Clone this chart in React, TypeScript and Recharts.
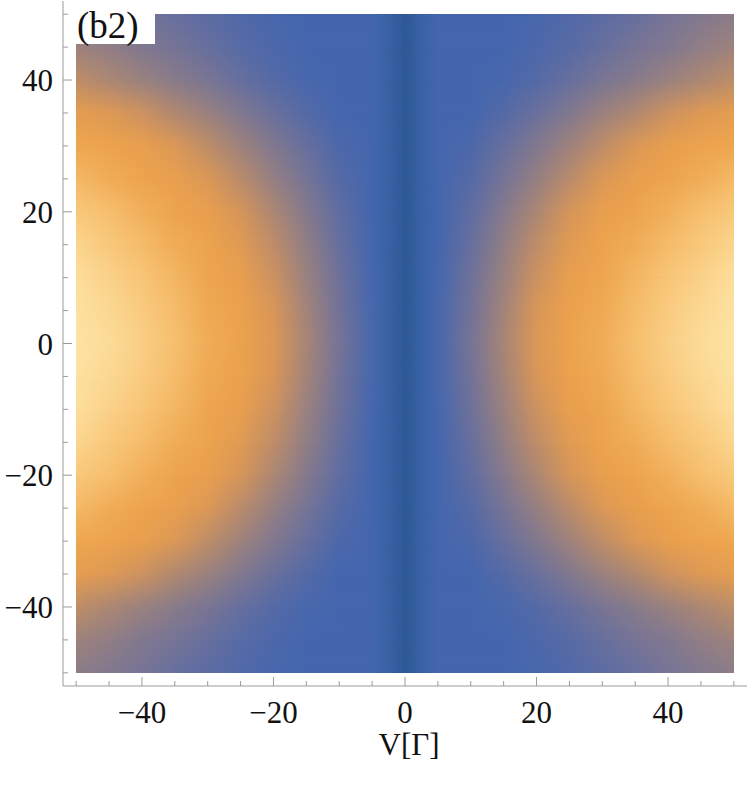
import React from 'react';
import { ComposedChart, XAxis, YAxis, ReferenceArea } from 'recharts';

// density plot sampled on a grid (V along x, second variable along y)
const X_COLS = [-50, -45, -40, -35, -30, -25, -20, -15, -10, -5, -2.5, 0, 2.5, 5, 10, 15, 20, 25, 30, 35, 40, 45, 50];
const ROW_Y = [50, 45, 40, 35, 30, 25, 20, 15, 10, 5, 0, -5, -10, -15, -20, -25, -30, -35, -40, -45, -50];

// scalar level (0 = dark blue, 1 = pale yellow), one row per ROW_Y entry
const V_ROWS = [
  [0.50, 0.47, 0.44, 0.40, 0.37, 0.34, 0.30, 0.28, 0.28, 0.28, 0.18, 0.06, 0.18, 0.28, 0.28, 0.28, 0.30, 0.34, 0.37, 0.40, 0.44, 0.47, 0.50],
  [0.54, 0.51, 0.47, 0.44, 0.40, 0.36, 0.32, 0.28, 0.28, 0.28, 0.18, 0.06, 0.18, 0.28, 0.28, 0.28, 0.32, 0.36, 0.40, 0.44, 0.47, 0.51, 0.54],
  [0.61, 0.57, 0.53, 0.49, 0.45, 0.40, 0.35, 0.30, 0.28, 0.28, 0.18, 0.06, 0.18, 0.28, 0.28, 0.30, 0.35, 0.40, 0.45, 0.49, 0.53, 0.57, 0.61],
  [0.72, 0.69, 0.64, 0.58, 0.53, 0.47, 0.41, 0.35, 0.28, 0.28, 0.18, 0.06, 0.18, 0.28, 0.28, 0.35, 0.41, 0.47, 0.53, 0.58, 0.64, 0.69, 0.72],
  [0.80, 0.77, 0.73, 0.68, 0.61, 0.54, 0.47, 0.40, 0.32, 0.28, 0.18, 0.06, 0.18, 0.28, 0.32, 0.40, 0.47, 0.54, 0.61, 0.68, 0.73, 0.77, 0.80],
  [0.86, 0.82, 0.78, 0.73, 0.68, 0.60, 0.52, 0.44, 0.35, 0.28, 0.18, 0.06, 0.18, 0.28, 0.35, 0.44, 0.52, 0.60, 0.68, 0.73, 0.78, 0.82, 0.86],
  [0.91, 0.88, 0.83, 0.78, 0.73, 0.66, 0.57, 0.48, 0.38, 0.28, 0.18, 0.06, 0.18, 0.28, 0.38, 0.48, 0.57, 0.66, 0.73, 0.78, 0.83, 0.88, 0.91],
  [0.95, 0.91, 0.87, 0.82, 0.77, 0.70, 0.61, 0.51, 0.40, 0.28, 0.18, 0.06, 0.18, 0.28, 0.40, 0.51, 0.61, 0.70, 0.77, 0.82, 0.87, 0.91, 0.95],
  [0.98, 0.94, 0.90, 0.85, 0.79, 0.73, 0.64, 0.53, 0.42, 0.29, 0.18, 0.06, 0.18, 0.29, 0.42, 0.53, 0.64, 0.73, 0.79, 0.85, 0.90, 0.94, 0.98],
  [0.99, 0.96, 0.92, 0.87, 0.81, 0.75, 0.67, 0.55, 0.43, 0.30, 0.18, 0.06, 0.18, 0.30, 0.43, 0.55, 0.67, 0.75, 0.81, 0.87, 0.92, 0.96, 0.99],
  [1.00, 0.97, 0.93, 0.88, 0.82, 0.76, 0.68, 0.56, 0.44, 0.30, 0.18, 0.06, 0.18, 0.30, 0.44, 0.56, 0.68, 0.76, 0.82, 0.88, 0.93, 0.97, 1.00],
  [0.99, 0.96, 0.92, 0.87, 0.81, 0.75, 0.67, 0.55, 0.43, 0.30, 0.18, 0.06, 0.18, 0.30, 0.43, 0.55, 0.67, 0.75, 0.81, 0.87, 0.92, 0.96, 0.99],
  [0.98, 0.94, 0.90, 0.85, 0.79, 0.73, 0.64, 0.53, 0.42, 0.29, 0.18, 0.06, 0.18, 0.29, 0.42, 0.53, 0.64, 0.73, 0.79, 0.85, 0.90, 0.94, 0.98],
  [0.95, 0.91, 0.87, 0.82, 0.77, 0.70, 0.61, 0.51, 0.40, 0.28, 0.18, 0.06, 0.18, 0.28, 0.40, 0.51, 0.61, 0.70, 0.77, 0.82, 0.87, 0.91, 0.95],
  [0.91, 0.88, 0.83, 0.78, 0.73, 0.66, 0.57, 0.48, 0.38, 0.28, 0.18, 0.06, 0.18, 0.28, 0.38, 0.48, 0.57, 0.66, 0.73, 0.78, 0.83, 0.88, 0.91],
  [0.86, 0.82, 0.78, 0.73, 0.68, 0.60, 0.52, 0.44, 0.35, 0.28, 0.18, 0.06, 0.18, 0.28, 0.35, 0.44, 0.52, 0.60, 0.68, 0.73, 0.78, 0.82, 0.86],
  [0.80, 0.77, 0.73, 0.68, 0.61, 0.54, 0.47, 0.40, 0.32, 0.28, 0.18, 0.06, 0.18, 0.28, 0.32, 0.40, 0.47, 0.54, 0.61, 0.68, 0.73, 0.77, 0.80],
  [0.72, 0.69, 0.64, 0.58, 0.53, 0.47, 0.41, 0.35, 0.28, 0.28, 0.18, 0.06, 0.18, 0.28, 0.28, 0.35, 0.41, 0.47, 0.53, 0.58, 0.64, 0.69, 0.72],
  [0.61, 0.57, 0.53, 0.49, 0.45, 0.40, 0.35, 0.30, 0.28, 0.28, 0.18, 0.06, 0.18, 0.28, 0.28, 0.30, 0.35, 0.40, 0.45, 0.49, 0.53, 0.57, 0.61],
  [0.54, 0.51, 0.47, 0.44, 0.40, 0.36, 0.32, 0.28, 0.28, 0.28, 0.18, 0.06, 0.18, 0.28, 0.28, 0.28, 0.32, 0.36, 0.40, 0.44, 0.47, 0.51, 0.54],
  [0.50, 0.47, 0.44, 0.40, 0.37, 0.34, 0.30, 0.28, 0.28, 0.28, 0.18, 0.06, 0.18, 0.28, 0.28, 0.28, 0.30, 0.34, 0.37, 0.40, 0.44, 0.47, 0.50],
];

const TICKS = [-50, -45, -40, -35, -30, -25, -20, -15, -10, -5, 0, 5, 10, 15, 20, 25, 30, 35, 40, 45, 50];
const MAJOR = [-40, -20, 0, 20, 40];
const X_TITLE = 'V[Γ]';
const PANEL = '(b2)';

const FONT = 'Liberation Serif';
const AXIS = '#9a9a9a';

// blue -> grey -> orange -> pale yellow
const CMAP: [number, string][] = [
  [0, '#28538a'], [0.12, '#335f9f'], [0.28, '#4466ae'], [0.34, '#5169a8'],
  [0.42, '#6e719a'], [0.5, '#8c7c88'], [0.58, '#b08870'], [0.66, '#d6955a'],
  [0.74, '#eaa04c'], [0.8, '#eea64f'], [0.89, '#f7c272'], [1, '#fee4a5'],
];

const hex = (c: string) => [1, 3, 5].map((i) => parseInt(c.slice(i, i + 2), 16));

function colorAt(v: number) {
  for (let k = 1; k < CMAP.length; k++) {
    const [p0, c0] = CMAP[k - 1];
    const [p1, c1] = CMAP[k];
    if (v <= p1 || k === CMAP.length - 1) {
      const t = Math.max(0, Math.min(1, (v - p0) / (p1 - p0)));
      const a = hex(c0), b = hex(c1);
      const rgb = a.map((x, j) => Math.round(x + (b[j] - x) * t));
      return `rgb(${rgb.join(',')})`;
    }
  }
  return CMAP[0][1];
}

const fmt = (v: number) => (v < 0 ? `\u2212${Math.abs(v)}` : `${v}`);

const BottomTick = ({ x, y, payload }: any) => {
  const major = MAJOR.includes(payload.value);
  return (
    <g>
      <line x1={x} x2={x} y1={y} y2={y - (major ? 9 : 5)} stroke={AXIS} />
      {major && (
        <text x={x} y={y + 37} textAnchor="middle" style={{ fontFamily: FONT, fontSize: 31 }} fill="#111">
          {fmt(payload.value)}
        </text>
      )}
    </g>
  );
};

const TopTick = ({ x, y, payload }: any) => {
  const major = MAJOR.includes(payload.value);
  return <line x1={x} x2={x} y1={y} y2={y + (major ? 9 : 5)} stroke={AXIS} />;
};

const LeftTick = ({ x, y, payload }: any) => {
  const major = MAJOR.includes(payload.value);
  return (
    <g>
      <line x1={x} x2={x + (major ? 9 : 5)} y1={y} y2={y} stroke={AXIS} />
      {major && (
        <text x={x - 10} y={y + 11} textAnchor="end" style={{ fontFamily: FONT, fontSize: 31 }} fill="#111">
          {fmt(payload.value)}
        </text>
      )}
    </g>
  );
};

const RightTick = ({ x, y, payload }: any) => {
  const major = MAJOR.includes(payload.value);
  return <line x1={x} x2={x - (major ? 9 : 5)} y1={y} y2={y} stroke={AXIS} />;
};

export default function App() {
  const bands = ROW_Y.slice(0, -1).map((yTop, i) => ({ i, yTop, yBot: ROW_Y[i + 1] }));
  return (
    <div style={{ position: 'absolute', left: 0, top: 0, width: 750, height: 788, background: '#fff' }}>
      <svg width={0} height={0} style={{ position: 'absolute' }}>
        <defs>
          {V_ROWS.map((row, i) => (
            <linearGradient key={i} id={`row${i}`} x1="0" y1="0" x2="1" y2="0">
              {row.map((v, j) => (
                <stop key={j} offset={(X_COLS[j] + 50) / 100} stopColor={colorAt(v)} />
              ))}
            </linearGradient>
          ))}
          <linearGradient id="vfade" x1="0" y1="0" x2="0" y2="1">
            <stop offset={0} stopColor="#000" />
            <stop offset={1} stopColor="#fff" />
          </linearGradient>
          <mask id="fadeIn" maskContentUnits="objectBoundingBox">
            <rect x={0} y={0} width={1} height={1} fill="url(#vfade)" />
          </mask>
        </defs>
      </svg>
      <ComposedChart width={750} height={788} margin={{ top: 1, right: 3, bottom: 0, left: 0 }}>
        <XAxis
          type="number" dataKey="x" domain={[-52, 52]} allowDataOverflow ticks={TICKS} interval={0}
          height={102} tickSize={0} tickMargin={0} tick={<BottomTick />} tickLine={false}
          axisLine={{ stroke: AXIS }}
          label={{
            content: ({ viewBox }: any) => (
              <text x={viewBox.x + viewBox.width / 2 + 4} y={viewBox.y + 69} textAnchor="middle" style={{ fontFamily: FONT, fontSize: 31 }} fill="#111">
                {X_TITLE}
              </text>
            ),
          }}
        />
        <XAxis
          xAxisId="top" orientation="top" type="number" domain={[-52, 52]} allowDataOverflow ticks={TICKS}
          interval={0} height={0} tickSize={0} tickMargin={0} tick={<TopTick />} tickLine={false}
          axisLine={{ stroke: AXIS }}
        />
        <YAxis
          type="number" dataKey="y" domain={[-52, 52]} allowDataOverflow ticks={TICKS} interval={0}
          width={63} tickSize={0} tickMargin={0} tick={<LeftTick />} tickLine={false}
          axisLine={{ stroke: AXIS }}
        />
        <YAxis
          yAxisId="right" orientation="right" type="number" domain={[-52, 52]} allowDataOverflow ticks={TICKS}
          interval={0} width={0} tickSize={0} tickMargin={0} tick={<RightTick />} tickLine={false}
          axisLine={{ stroke: AXIS }}
        />
        {bands.map((b) => (
          <ReferenceArea
            key={b.i}
            x1={X_COLS[0]} x2={X_COLS[X_COLS.length - 1]} y1={b.yBot} y2={b.yTop}
            shape={(p: any) => (
              <g>
                <rect x={p.x} y={p.y} width={p.width} height={p.height} fill={`url(#row${b.i})`} shapeRendering="crispEdges" />
                <rect x={p.x} y={p.y} width={p.width} height={p.height} fill={`url(#row${b.i + 1})`} mask="url(#fadeIn)" shapeRendering="crispEdges" />
              </g>
            )}
          />
        ))}
      </ComposedChart>
      <svg width={90} height={48} style={{ position: 'absolute', left: 76, top: 4 }}>
        <rect x={0} y={9} width={79} height={31} fill="#fff" />
        <text x={1} y={34} style={{ fontFamily: FONT, fontSize: 37 }} fill="#111">{PANEL}</text>
      </svg>
    </div>
  );
}
